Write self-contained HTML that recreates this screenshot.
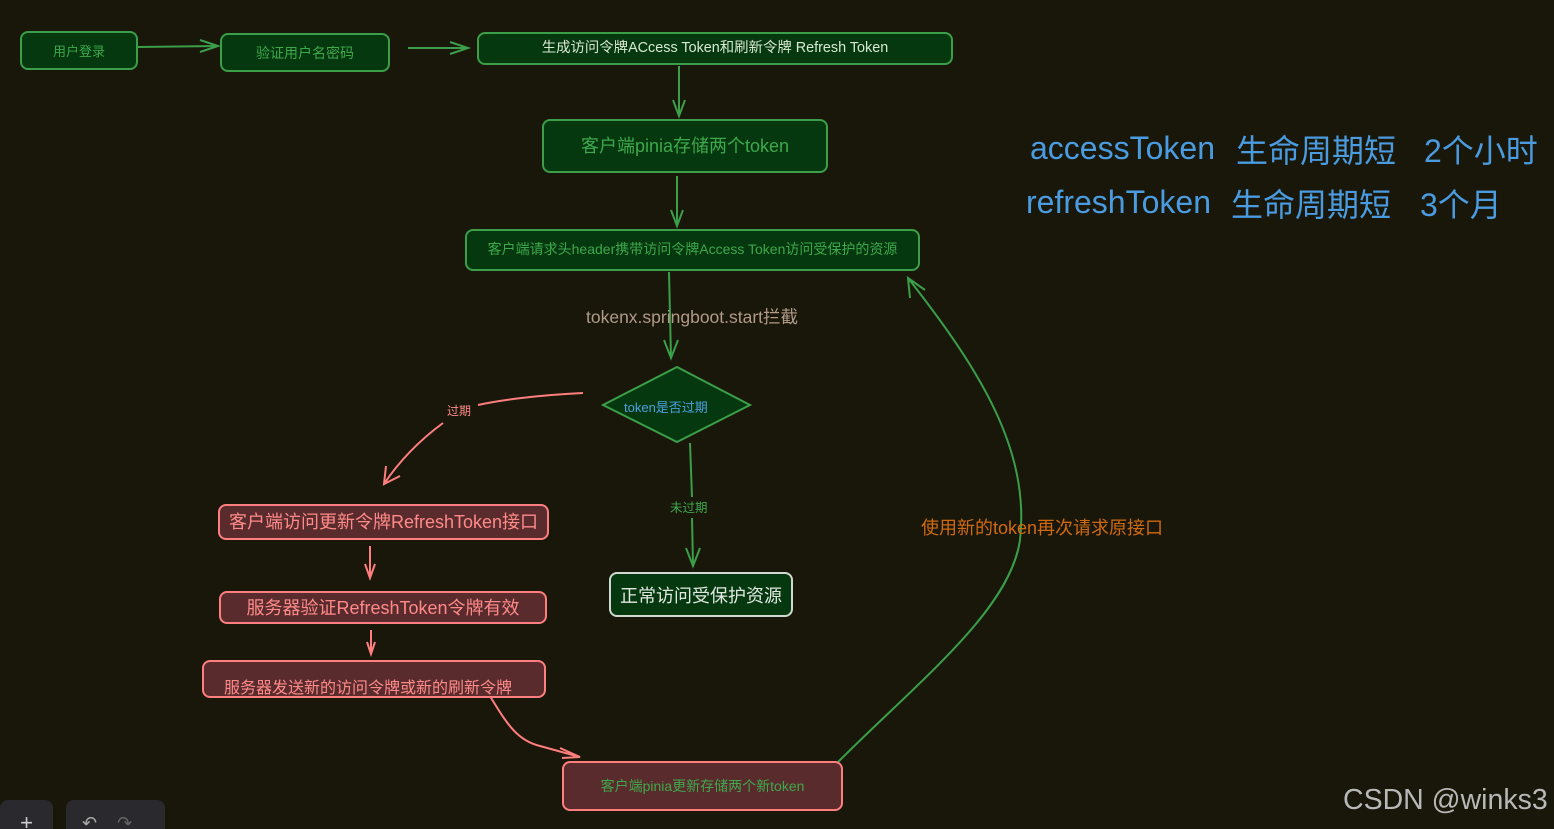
<!DOCTYPE html>
<html><head><meta charset="utf-8"><style>
html,body{margin:0;width:1554px;height:829px;overflow:hidden}
body{background:#19170a;position:relative;font-family:"Liberation Sans","Noto Sans CJK SC",sans-serif}
.b{position:absolute;box-sizing:border-box;display:flex;align-items:center;justify-content:center;white-space:nowrap}
.g{background:#05380f;border:2px solid #3b9e48;border-radius:8px;color:#3ea84c}
.p{background:#5a2b2c;border:2px solid #ff7e7e;border-radius:8px;color:#ff8a8a}
.t{position:absolute;white-space:nowrap}
.bl{position:absolute;white-space:nowrap;font-size:32px;color:#4a9be0}
</style></head><body>
<svg width="1554" height="829" style="position:absolute;left:0;top:0" fill="none" stroke-width="2">
<g stroke="#3b9e48">
<path d="M138 47 L218 46 M200 40 L218 46 L200 52"/>
<path d="M408 48 L468 48 M450 42 L468 48 L450 54"/>
<path d="M679 66 L679 116 M673 100 L679 116 L685 100"/>
<path d="M677 176 L677 226 M671 210 L677 226 L683 210"/>
<path d="M669 272 L671 358 M664 340 L671 358 L678 340"/>
<path d="M690 443 L692 497 M692 518 L693 566 M686 548 L693 566 L700 548"/>
<path d="M838 762 C920 680 1010 610 1020 540 C1030 450 980 370 908 278 M910 298 L908 278 L925 290"/>
<polygon points="677,367 750,405 677,442 603,405" fill="#05380f"/>
</g>
<g stroke="#ff7e7e">
<path d="M583 393 C540 395 500 400 478 405 M443 423 C420 440 400 460 384 484 M386 466 L384 484 L400 476"/>
<path d="M370 546 L370 578 M365 564 L370 578 L375 564"/>
<path d="M371 630 L371 654 M367 642 L371 654 L375 642"/>
<path d="M488 693 C505 720 515 740 540 746 L580 757 M560 748 L580 757 L562 758"/>
</g>
</svg>
<div class="b g" style="left:20px;top:31px;width:118px;height:39px;font-size:13px">用户登录</div>
<div class="b g" style="left:220px;top:33px;width:170px;height:39px;font-size:14px">验证用户名密码</div>
<div class="b g" style="left:477px;top:32px;width:476px;height:33px;font-size:14.4px;color:#d8e8d0;padding-bottom:4px">生成访问令牌ACcess Token和刷新令牌 Refresh Token</div>
<div class="b g" style="left:542px;top:119px;width:286px;height:54px;font-size:18px;padding-bottom:3px">客户端pinia存储两个token</div>
<div class="b g" style="left:465px;top:229px;width:455px;height:42px;font-size:14px;padding-bottom:2px">客户端请求头header携带访问令牌Access Token访问受保护的资源</div>
<div class="t" style="left:586px;top:304px;font-size:17.5px;color:#b09a88">tokenx.springboot.start拦截</div>
<div class="t" style="left:624px;top:397px;font-size:13px;color:#4aa0e0">token是否过期</div>
<div class="t" style="left:447px;top:402px;font-size:12px;color:#ff8a8a">过期</div>
<div class="t" style="left:670px;top:497px;font-size:12.5px;color:#3ea84c">未过期</div>
<div class="b p" style="left:218px;top:504px;width:331px;height:36px;font-size:18px;padding-bottom:2px">客户端访问更新令牌RefreshToken接口</div>
<div class="b p" style="left:219px;top:591px;width:328px;height:33px;font-size:18px;padding-bottom:2px">服务器验证RefreshToken令牌有效</div>
<div class="b p" style="left:202px;top:660px;width:344px;height:38px;font-size:16px;justify-content:flex-start;padding:14px 0 0 20px">服务器发送新的访问令牌或新的刷新令牌</div>
<div class="b g" style="left:609px;top:572px;width:184px;height:45px;font-size:18px;border-color:#d0d8d0;color:#e0e8e0">正常访问受保护资源</div>
<div class="b p" style="left:562px;top:761px;width:281px;height:50px;font-size:14px;color:#3ea84c">客户端pinia更新存储两个新token</div>
<div class="t" style="left:921px;top:514px;font-size:18px;color:#d06a10">使用新的token再次请求原接口</div>
<div class="bl" style="left:1030px;top:130px">accessToken</div>
<div class="bl" style="left:1236px;top:126px">生命周期短</div>
<div class="bl" style="left:1424px;top:126px">2个小时</div>
<div class="bl" style="left:1026px;top:184px">refreshToken</div>
<div class="bl" style="left:1231px;top:180px">生命周期短</div>
<div class="bl" style="left:1420px;top:180px">3个月</div>
<div class="t" style="left:1343px;top:784px;font-size:28.5px;color:#b8b8b8">CSDN @winks3</div>
<div style="position:absolute;left:0;top:800px;width:53px;height:40px;background:#2a2a2e;border-radius:8px;color:#ccc;font-size:22px;text-align:center;line-height:46px">+</div>
<div style="position:absolute;left:66px;top:800px;width:99px;height:40px;background:#2a2a2e;border-radius:8px;color:#aaa;font-size:18px;line-height:46px;padding-left:16px;box-sizing:border-box">↶&nbsp;&nbsp;&nbsp;&nbsp;<span style="color:#666">↷</span></div>
</body></html>
